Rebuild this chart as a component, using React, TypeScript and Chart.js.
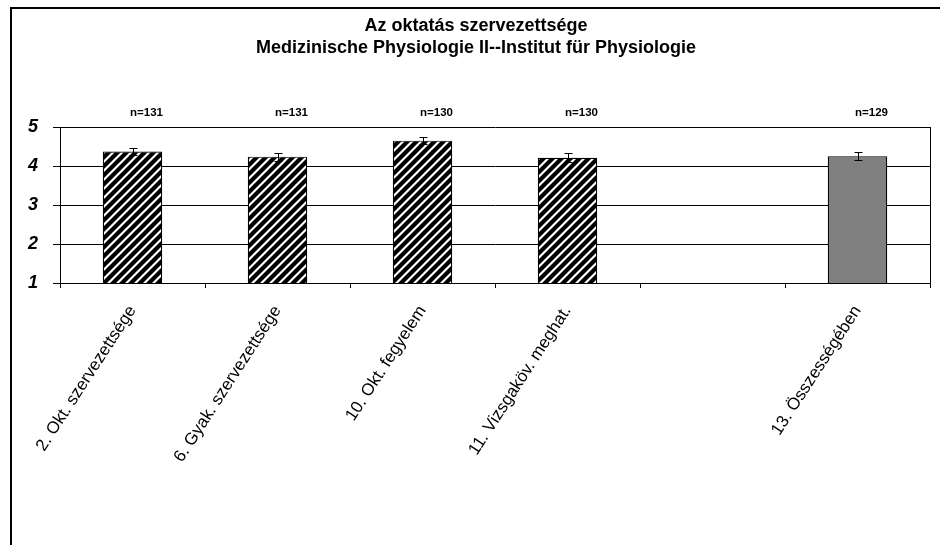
import React, { useEffect, useRef } from "react";
import { Chart, registerables } from "chart.js";

Chart.register(...registerables);

const titleLines = ["Az oktatás szervezettsége", "Medizinische Physiologie II--Institut für Physiologie"];
const categories = [
  "2. Okt. szervezettsége",
  "6. Gyak. szervezettsége",
  "10. Okt. fegyelem",
  "11. Vizsgaköv. meghat.",
  "",
  "13. Összességében",
];
const means = [4.37, 4.24, 4.65, 4.21, null, 4.25];
const errors = [0.09, 0.1, 0.09, 0.12, null, 0.1];
const nLabels = ["n=131", "n=131", "n=130", "n=130", "", "n=129"];
const yTicks = [1, 2, 3, 4, 5];

const FONT = "'Liberation Sans', Arial, sans-serif";

function makeHatch(): CanvasPattern | string {
  const s = 9;
  const c = document.createElement("canvas");
  c.width = s;
  c.height = s;
  const g = c.getContext("2d");
  if (!g) return "#000";
  g.fillStyle = "#fff";
  g.fillRect(0, 0, s, s);
  g.strokeStyle = "#000";
  g.lineWidth = 4.2;
  g.beginPath();
  g.moveTo(-1, s + 1);
  g.lineTo(s + 1, -1);
  g.moveTo(-s / 2, s / 2);
  g.lineTo(s / 2, -s / 2);
  g.moveTo(s / 2, s * 1.5);
  g.lineTo(s * 1.5, s / 2);
  g.stroke();
  const p = g.createPattern(c, "repeat");
  return p || "#000";
}

const overlayPlugin = {
  id: "overlay",
  afterDatasetsDraw(chart: any) {
    const ctx = chart.ctx;
    const meta = chart.getDatasetMeta(0);
    const ys = chart.scales.y;
    const area = chart.chartArea;
    ctx.save();
    ctx.strokeStyle = "#000";
    ctx.lineWidth = 1;
    means.forEach((m, i) => {
      const e = errors[i];
      if (m == null || e == null) return;
      const x = Math.round(meta.data[i].x) + 0.5;
      const yt = Math.round(ys.getPixelForValue(m + e)) + 0.5;
      const yb = Math.round(ys.getPixelForValue(m - e)) + 0.5;
      ctx.beginPath();
      ctx.moveTo(x, yt);
      ctx.lineTo(x, yb);
      ctx.moveTo(x - 4, yt);
      ctx.lineTo(x + 4, yt);
      ctx.moveTo(x - 4, yb);
      ctx.lineTo(x + 4, yb);
      ctx.stroke();
    });
    ctx.beginPath();
    ctx.moveTo(Math.round(area.right) + 0.5, area.top);
    ctx.lineTo(Math.round(area.right) + 0.5, area.bottom);
    ctx.stroke();
    ctx.fillStyle = "#000";
    ctx.font = "bold 11.5px " + FONT;
    ctx.textAlign = "center";
    ctx.textBaseline = "middle";
    nLabels.forEach((t, i) => {
      if (!t) return;
      ctx.fillText(t, meta.data[i].x + 14, area.top - 14);
    });
    ctx.restore();
  },
};

export default function App() {
  const ref = useRef<HTMLCanvasElement | null>(null);
  useEffect(() => {
    if (!ref.current) return;
    const hatch = makeHatch();
    const colors = means.map((_, i) => (i === means.length - 1 ? "#808080" : hatch));
    const chart = new Chart(ref.current, {
      type: "bar",
      data: {
        labels: categories,
        datasets: [
          {
            data: means as any,
            backgroundColor: colors as any,
            borderColor: "#000",
            borderWidth: 1.2,
            barPercentage: 0.41,
            categoryPercentage: 1,
          },
        ],
      },
      options: {
        responsive: false,
        animation: false,
        devicePixelRatio: 1,
        layout: { padding: { left: 22, right: 10, top: 0, bottom: 0 } },
        plugins: {
          legend: { display: false },
          tooltip: { enabled: false },
          title: {
            display: true,
            text: titleLines,
            color: "#000",
            font: { family: FONT, size: 18, weight: "bold", lineHeight: 22 / 18 },
            padding: { top: 15, bottom: 68 },
          },
        },
        scales: {
          x: {
            afterFit: (s: any) => {
              s.height = 262;
            },
            grid: {
              offset: true,
              drawOnChartArea: false,
              drawTicks: true,
              tickLength: 5,
              color: "#000",
            },
            border: { display: true, color: "#000", width: 1 },
            ticks: {
              autoSkip: false,
              minRotation: 57,
              maxRotation: 57,
              padding: 14,
              color: "#000",
              font: { family: FONT, size: 17 },
            },
          },
          y: {
            min: yTicks[0],
            max: yTicks[yTicks.length - 1],
            afterFit: (s: any) => {
              s.width = 38;
            },
            afterBuildTicks: (s: any) => {
              s.ticks = yTicks.map((v) => ({ value: v }));
            },
            grid: {
              color: "#000",
              lineWidth: 1,
              drawTicks: true,
              tickLength: 7,
            },
            border: { display: true, color: "#000", width: 1 },
            ticks: {
              padding: 15,
              color: "#000",
              font: { family: FONT, size: 18, weight: "bold", style: "italic" },
            },
          },
        },
      },
      plugins: [overlayPlugin],
    });
    return () => chart.destroy();
  }, []);

  return (
    <div
      style={{
        position: "fixed",
        left: 0,
        top: 0,
        width: 940,
        height: 545,
        overflow: "hidden",
        background: "#fff",
      }}
    >
      <div
        style={{
          position: "absolute",
          left: 10,
          top: 7,
          width: 1200,
          height: 1200,
          borderLeft: "2px solid #000",
          borderTop: "2px solid #000",
        }}
      />
      <canvas ref={ref} width={940} height={545} style={{ position: "absolute", left: 0, top: 0 }} />
    </div>
  );
}
